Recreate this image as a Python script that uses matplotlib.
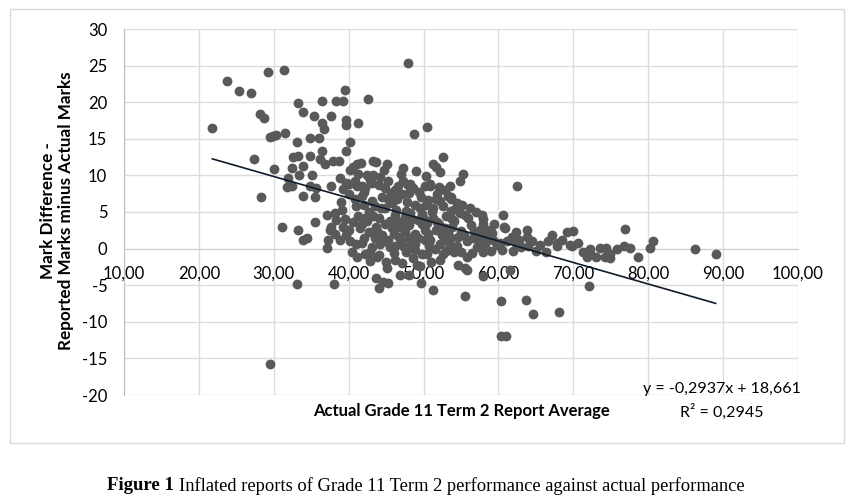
import matplotlib.pyplot as plt
from matplotlib.ticker import FuncFormatter
from matplotlib.patches import Rectangle

# ======= Data =======
# (actual grade 11 term 2 average, reported minus actual)
upper_pts = [
    (21.8, 16.5), (23.8, 22.9), (25.4, 21.5), (27.0, 21.3), (29.2, 24.1), (31.4, 24.4),
    (28.2, 18.4), (28.7, 17.9), (29.5, 15.2), (29.9, 15.4), (30.3, 15.5), (31.5, 15.8),
    (27.3, 12.3), (30.0, 10.9), (33.2, 19.9), (33.9, 18.7), (35.4, 18.1), (36.5, 20.1),
    (38.3, 20.1), (39.3, 20.1), (39.5, 21.7), (42.6, 20.5), (37.6, 18.1), (36.4, 17.2),
    (36.7, 16.3), (39.7, 17.6), (39.7, 16.9), (41.3, 17.1), (33.1, 14.5), (34.8, 15.1),
    (36.0, 15.1), (40.2, 14.5), (39.7, 13.4), (32.6, 12.5), (33.3, 12.6), (34.8, 12.6),
    (36.4, 13.3), (36.2, 12.2), (36.8, 11.5), (37.9, 11.9), (38.7, 12.0), (40.2, 10.8),
    (41.1, 11.5), (41.7, 11.7), (32.4, 11.0), (33.9, 11.3), (31.9, 9.7), (33.4, 10.0),
    (35.1, 10.0), (31.7, 8.4), (32.4, 8.6), (34.8, 8.6), (35.7, 8.3), (37.6, 8.6),
    (38.8, 9.7), (39.7, 9.0), (39.3, 8.1), (41.1, 8.5), (42.2, 8.3), (28.3, 7.1),
    (33.9, 7.2), (35.5, 7.1), (47.9, 25.4), (48.7, 15.7), (50.4, 16.6), (43.3, 12.0),
    (43.7, 11.8), (44.7, 10.7), (52.6, 12.5), (51.2, 11.5), (51.7, 11.2), (52.2, 10.4),
    (55.3, 10.2), (54.9, 9.2), (47.0, 10.2), (50.3, 9.9), (42.5, 10.1), (43.3, 10.0),
    (42.8, 9.4), (45.3, 9.3), (47.3, 9.3), (47.9, 8.7), (48.6, 8.3), (49.4, 7.8),
    (50.9, 8.5), (52.0, 8.4), (53.6, 7.1), (62.5, 8.5), (40.6, 11.2), (45.1, 11.6),
    (47.2, 11.0), (44.0, 8.7), (44.9, 8.3), (46.2, 8.0), (48.2, 8.8), (50.2, 8.6),
    (40.0, 8.8), (40.9, 9.2), (41.8, 8.5), (43.1, 9.0), (51.8, 7.5), (52.8, 8.0),
    (53.2, 7.2), (50.9, 8.8),
]
mid_pts = [
    (40.0, 7.5), (40.9, 6.8), (41.8, 7.2), (43.1, 6.5), (44.4, 7.0), (45.8, 6.2),
    (47.1, 7.4), (48.9, 6.0), (50.6, 6.6), (38.2, 4.8), (39.1, 5.3), (41.3, 4.5),
    (42.7, 5.0), (44.0, 4.2), (44.9, 5.5), (46.2, 4.6), (47.6, 5.2), (48.5, 4.0),
    (49.8, 4.7), (51.1, 5.0), (37.7, 3.0), (38.2, 2.0), (40.0, 2.5), (41.8, 3.4),
    (42.7, 2.2), (43.6, 3.0), (44.4, 1.8), (45.8, 2.8), (46.7, 1.6), (48.0, 3.2),
    (48.9, 2.0), (50.2, 2.6), (50.3, 6.0), (51.2, 5.5), (52.2, 6.5), (53.6, 5.2),
    (54.4, 6.2), (56.2, 5.6), (55.2, 5.9), (53.7, 6.8), (50.4, 3.5), (51.3, 4.2),
    (52.8, 2.8), (54.1, 3.8), (55.0, 2.4), (56.3, 3.2), (58.0, 4.0), (58.9, 2.6),
    (60.8, 3.0), (31.1, 3.0), (33.3, 2.5), (35.5, 3.7), (37.1, 4.6), (38.3, 3.9),
    (37.5, 2.6), (57.8, 4.6), (60.6, 4.6), (56.0, 4.2), (57.9, 3.3), (60.9, 2.8),
    (59.1, 2.1), (62.4, 2.2), (63.8, 2.5), (67.1, 1.9), (69.1, 2.2), (70.0, 2.4),
    (76.9, 2.7), (57.5, 2.6), (58.4, 2.1), (39.0, 6.3), (42.0, 6.0), (46.5, 6.8),
    (49.5, 5.5), (43.5, 5.8), (45.5, 3.8), (47.0, 3.6), (39.5, 4.0), (41.0, 5.8),
    (52.0, 3.3), (53.0, 4.5), (54.8, 4.8),
]
low_pts = [
    (33.9, 1.2), (34.5, 1.5), (37.3, 1.2), (37.1, 0.1), (38.8, 1.2), (41.8, 0.8),
    (43.1, 0.2), (44.9, 1.0), (46.2, 0.4), (47.6, -0.5), (48.9, 0.6), (50.2, 1.2),
    (50.9, 1.2), (52.2, 0.6), (53.6, 1.5), (54.5, 0.3), (55.8, 1.0), (57.1, 0.2),
    (58.5, 1.4), (59.8, 0.5), (61.1, 1.0), (62.4, 0.8), (63.8, 1.6), (50.4, -0.8),
    (52.2, -1.5), (54.0, -0.5), (55.8, -1.2), (40.4, -0.4), (41.1, -1.1), (42.2, -0.8),
    (42.8, -0.4), (42.8, -1.7), (45.1, -2.6), (46.2, -1.5), (47.1, -2.0), (49.1, -2.2),
    (49.5, -2.4), (54.6, -2.2), (55.5, -2.6), (59.3, 1.2), (60.2, 0.8), (65.5, 0.5),
    (67.8, 0.3), (69.5, 0.5), (71.3, -0.4), (71.8, -1.1), (67.8, 0.8), (69.8, 0.3),
    (72.2, -0.6), (73.6, 0.1), (74.4, 0.1), (74.9, -0.8), (76.7, 0.4), (77.6, 0.1),
    (78.7, -1.1), (80.2, 0.1), (80.6, 1.1), (86.2, -0.1), (89.0, -0.7), (74.2, -1.1),
    (74.9, -1.3), (72.2, -0.1), (44.0, -0.9), (45.5, 0.2), (48.0, 1.5), (51.5, 0.0),
    (53.0, -0.3), (56.5, -0.6), (58.0, -0.4), (60.5, -0.2), (62.0, -0.3), (63.0, 0.2),
    (64.5, 1.0), (66.3, -0.4), (39.6, 1.8), (43.5, 1.5), (47.0, 1.0),
]
dense_pts = [
    (41.5, 2.8), (42.5, 3.8), (43.8, 2.4), (44.8, 3.4), (45.2, 1.2), (46.0, 2.0),
    (46.8, 3.0), (47.5, 2.2), (48.2, 0.4), (49.2, 1.4), (49.8, 3.4), (50.6, 2.0),
    (51.6, 2.6), (52.4, 1.8), (53.2, 2.2), (53.8, 3.0), (54.6, 1.6), (55.4, 1.8),
    (56.6, 1.4), (57.4, 1.0), (58.2, 0.6), (59.0, -0.3), (55.0, -0.5), (53.5, 0.4),
    (52.6, -0.8), (51.0, -1.8), (49.8, -0.8), (48.6, -1.3), (47.3, 0.3), (46.0, -0.6),
    (45.0, -1.8), (43.8, -1.2), (44.2, 0.6), (42.0, 1.4), (41.0, 0.6), (40.2, 1.0),
    (46.3, 5.3), (47.8, 6.3), (48.2, 4.8), (49.3, 3.9), (45.2, 6.8), (44.3, 5.6),
    (43.2, 4.4), (42.2, 4.2), (40.6, 3.6), (39.2, 3.0), (52.6, 5.8), (51.7, 6.8),
    (53.8, 4.0), (55.6, 4.6), (56.8, 2.4), (57.0, 5.0), (49.6, 7.0), (48.0, 7.6),
    (46.6, 8.6), (45.6, 7.6), (44.2, 9.8), (42.0, 7.8), (41.2, 10.2), (49.0, 10.6),
    (53.5, 8.5), (54.2, 5.4), (50.0, 4.1), (47.5, 4.3), (46.3, 3.4), (51.8, 3.6),
    (52.8, 1.2), (50.7, 0.4), (48.8, -0.2), (57.8, 1.8), (59.4, 3.4), (61.8, 1.6),
    (62.8, 1.2), (64.0, 0.4), (65.0, -0.3), (66.6, 1.0), (68.5, 1.2), (70.6, 0.8),
    (75.8, 0.0), (73.0, -1.2),
]
below_pts = [
    (33.1, -4.9), (38.0, -4.8), (44.0, -5.4), (43.7, -4.0), (44.6, -4.5), (45.3, -4.7),
    (49.7, -4.7), (51.2, -5.7), (55.5, -6.5), (60.3, -7.2), (63.7, -7.0), (64.6, -8.9),
    (68.1, -8.7), (60.4, -12.0), (61.0, -12.0), (72.1, -5.1), (29.5, -15.8), (46.8, -3.6),
    (48.0, -3.6), (58.0, -3.8), (61.5, -2.9), (55.8, -2.9),
]

slope = -0.2937
intercept = 18.661
x_ticks = [10, 20, 30, 40, 50, 60, 70, 80, 90, 100]
y_ticks = [-20, -15, -10, -5, 0, 5, 10, 15, 20, 25, 30]

all_pts = upper_pts + mid_pts + low_pts + dense_pts + below_pts
xs = [p[0] for p in all_pts]
ys = [p[1] for p in all_pts]

plt.rcParams['font.family'] = ['Lato', 'DejaVu Sans']
plt.rcParams['axes.unicode_minus'] = False

# ======= Figure =======
fig = plt.figure(figsize=(8.53, 5.03), dpi=100)
# light frame around the chart area
fig.patches.append(Rectangle((10 / 853, 1 - 443 / 503), 834 / 853, 434 / 503,
                             transform=fig.transFigure, fill=False,
                             edgecolor='#d9d9d9', linewidth=1))
ax = fig.add_axes([124 / 853, 1 - 395 / 503, 674 / 853, 366 / 503])

ax.scatter(xs, ys, s=50, color='#595959', linewidths=0, zorder=3)

# linear trendline over the data range
x0, x1 = min(xs), max(xs)
ax.plot([x0, x1], [slope * x0 + intercept, slope * x1 + intercept],
        color='#0d1b2a', linewidth=1.2, zorder=4)

ax.set_xlim(10, 100)
ax.set_ylim(-20, 30)
ax.set_xticks(x_ticks)
ax.set_yticks(y_ticks)
ax.xaxis.set_major_formatter(FuncFormatter(lambda v, p: f"{v:.2f}".replace('.', ',')))
ax.yaxis.set_major_formatter(FuncFormatter(lambda v, p: f"{int(v)}"))
ax.grid(True, color='#dcdcdc', linewidth=1)
ax.set_axisbelow(True)
for s in ['top', 'right']:
    ax.spines[s].set_visible(False)
ax.spines['left'].set_color('#bfbfbf')
ax.spines['bottom'].set_position(('data', 0))
ax.spines['bottom'].set_color('#d0d0d0')
ax.tick_params(axis='x', length=0, pad=12, labelsize=12)
ax.tick_params(axis='y', length=0, pad=12, labelsize=12)

fig.text(461 / 853, 1 - 411 / 503, "Actual Grade 11 Term 2 Report Average",
         ha='center', va='center', fontsize=12, fontweight='bold')
fig.text(57 / 853, 1 - 211 / 503, "Mark Difference -\nReported Marks minus Actual Marks",
         ha='center', va='center', rotation=90, fontsize=12.3, fontweight='bold',
         multialignment='center', linespacing=1.15)
fig.text(722 / 853, 1 - 389 / 503, "y = -0,2937x + 18,661",
         ha='center', va='center', fontsize=11.5)
fig.text(722 / 853, 1 - 412 / 503, "R² = 0,2945",
         ha='center', va='center', fontsize=11.5)

# ======= Caption =======
cap = fig.text(107 / 853, 1 - 486 / 503, "Figure 1", ha='left', va='center',
               fontsize=13.5, fontweight='bold', family='Liberation Serif')
ax.annotate("Inflated reports of Grade 11 Term 2 performance against actual performance",
            xy=(1, 0.5), xycoords=cap, xytext=(3.5, 0), textcoords='offset points',
            ha='left', va='center', fontsize=13.3, family='Liberation Serif',
            annotation_clip=False)

plt.savefig("out.png", dpi=100)
plt.close()
